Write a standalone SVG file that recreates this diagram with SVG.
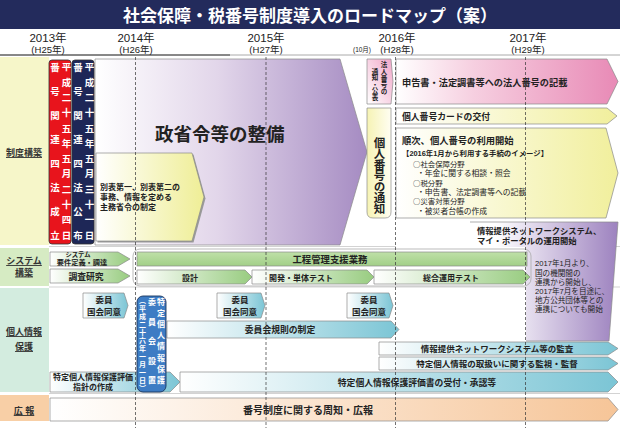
<svg xmlns="http://www.w3.org/2000/svg" width="620" height="428" viewBox="0 0 620 428">
<defs>
<style>
text{font-family:"Liberation Sans","Noto Sans CJK JP",sans-serif;fill:#222}
.j{font-family:"Noto Sans CJK JP",sans-serif}
.b{font-weight:bold}
.w{fill:#fff;font-weight:bold}
.m{text-anchor:middle}
.lab{font-size:9px;font-weight:bold;text-anchor:middle;text-decoration:underline;fill:#333}
.v{writing-mode:vertical-rl}
.ar{stroke:#8a8a8a;stroke-width:.7}
.dash{stroke:#333;stroke-width:.7;stroke-dasharray:3 2;fill:none}
.sep{stroke:#c8c8c8;stroke-width:.8}
</style>
<linearGradient id="gPurple" x1="0" y1="0" x2="1" y2="0"><stop offset="0" stop-color="#fff"/><stop offset="0.45" stop-color="#e2d6ea"/><stop offset="1" stop-color="#a58bc2"/></linearGradient>
<linearGradient id="gPurpleR" x1="0" y1="0" x2="1" y2="0"><stop offset="0" stop-color="#fff"/><stop offset="0.45" stop-color="#fff"/><stop offset="1" stop-color="#9d82bf"/></linearGradient>
<linearGradient id="gBetsu" x1="0" y1="0" x2="1" y2="0"><stop offset="0" stop-color="#fff"/><stop offset="1" stop-color="#efee96"/></linearGradient>
<linearGradient id="gPink" x1="0" y1="0" x2="1" y2="0"><stop offset="0" stop-color="#fff"/><stop offset="0.35" stop-color="#f6cfe0"/><stop offset="1" stop-color="#e88ab6"/></linearGradient>
<linearGradient id="gPinkV" x1="0" y1="1" x2="1" y2="0"><stop offset="0" stop-color="#fff"/><stop offset="1" stop-color="#f0a6c8"/></linearGradient>
<linearGradient id="gYellow" x1="0" y1="0" x2="1" y2="0"><stop offset="0" stop-color="#fff"/><stop offset="1" stop-color="#f1ef9c"/></linearGradient>
<linearGradient id="gYellowV" x1="0" y1="0" x2="1" y2="0"><stop offset="0" stop-color="#f6f3b4"/><stop offset="1" stop-color="#fffef2"/></linearGradient>
<linearGradient id="gGreen" x1="0" y1="0" x2="1" y2="0"><stop offset="0" stop-color="#fff"/><stop offset="1" stop-color="#98cc80"/></linearGradient>
<linearGradient id="gGreenBar" x1="0" y1="0" x2="0" y2="1"><stop offset="0" stop-color="#bfe0a8"/><stop offset="1" stop-color="#a2cf88"/></linearGradient>
<linearGradient id="gTeal" x1="0" y1="0" x2="1" y2="0"><stop offset="0" stop-color="#fff"/><stop offset="1" stop-color="#7bc5d5"/></linearGradient>
<linearGradient id="gOrange" x1="0" y1="0" x2="1" y2="0"><stop offset="0" stop-color="#fff"/><stop offset="1" stop-color="#f6c598"/></linearGradient>
</defs>

<!-- title -->
<g id="title">
<rect x="0" y="0" width="620" height="29" fill="#232b5c"/>
<text x="310" y="21.5" class="w m" font-size="17" style="fill:#fff">社会保障・税番号制度導入のロードマップ（案）</text>
</g>

<!-- header -->
<g id="header">
<text x="48" y="42" class="m" font-size="11.5">2013年</text>
<text x="136" y="42" class="m" font-size="11.5">2014年</text>
<text x="266" y="42" class="m" font-size="11.5">2015年</text>
<text x="397" y="42" class="m" font-size="11.5">2016年</text>
<text x="528" y="42" class="m" font-size="11.5">2017年</text>
<text x="48" y="52.5" class="m" font-size="9.5">(H25年)</text>
<text x="136" y="52.5" class="m" font-size="9.5">(H26年)</text>
<text x="266" y="52.5" class="m" font-size="9.5">(H27年)</text>
<text x="362" y="51.5" class="m" font-size="6.5">(10月)</text>
<text x="397" y="52.5" class="m" font-size="9.5">(H28年)</text>
<text x="528" y="52.5" class="m" font-size="9.5">(H29年)</text>
<line x1="0" y1="55" x2="230" y2="55" stroke="#111" stroke-width="1"/>
<line x1="230" y1="55" x2="620" y2="55" stroke="#aaa" stroke-width="1"/>
</g>

<!-- row labels -->
<g id="labels">
<rect x="0" y="57" width="49" height="188" fill="#f6f6c9"/>
<rect x="0" y="248" width="49" height="38" fill="#d6ebc3"/>
<rect x="0" y="288" width="49" height="104" fill="#d3ecdf"/>
<rect x="0" y="395" width="49" height="26" fill="#f8cfa6"/>
<text x="24" y="156" class="lab">制度構築</text>
<text x="24" y="264" class="lab">システム</text>
<text x="24" y="275.5" class="lab">構築</text>
<text x="24" y="335" class="lab">個人情報</text>
<text x="24" y="350" class="lab">保護</text>
<text x="24" y="414" class="lab">広 報</text>
<line x1="49" y1="246.5" x2="620" y2="246.5" class="sep"/>
<line x1="49" y1="287" x2="620" y2="287" class="sep"/>
<line x1="49" y1="393.5" x2="620" y2="393.5" class="sep"/>
</g>

<!-- 制度構築 -->
<g id="seishourei">
<polygon points="95,59 340,59 367,152 340,245 95,245" fill="url(#gPurple)" class="ar"/>
<text x="155" y="141" font-size="18.5" class="b">政省令等の整備</text>
</g>
<g id="betsuhyou">
<polygon points="97.5,154.5 193.5,154.5 205.5,198.5 193.5,242.5 97.5,242.5" fill="#9a9a9a"/>
<polygon points="96,153 192,153 204,197 192,241 96,241" fill="url(#gBetsu)" class="ar"/>
<text x="100" y="190" font-size="8" class="b">別表第一、別表第二の</text>
<text x="100" y="200" font-size="8" class="b">事務、情報を定める</text>
<text x="100" y="210" font-size="8" class="b">主務省令の制定</text>
</g>
<g id="seiritsu">
<rect x="49" y="60" width="22" height="184" rx="3" fill="#e8141c" stroke="#333" stroke-width=".8"/>
<text x="54.5" y="63" class="v w" font-size="9.5" letter-spacing="14.4">番号関連四法成立</text>
<text x="66" y="62" class="v w" font-size="9.5" letter-spacing="5.8">平成二十五年五月二十四日</text>
</g>
<g id="koufu">
<rect x="72" y="60" width="22" height="184" rx="3" fill="#1e2757" stroke="#333" stroke-width=".8"/>
<text x="77.5" y="63" class="v w" font-size="9.5" letter-spacing="14.4">番号関連四法公布</text>
<text x="89" y="62" class="v w" font-size="9.5" letter-spacing="5.8">平成二十五年五月三十一日</text>
</g>
<g id="houjin-tsuuchi">
<polygon points="367,59 391,59 393,81.5 391,104 367,104" fill="url(#gPinkV)" class="ar"/>
<text x="384" y="61.5" class="v b j" font-size="6.5" letter-spacing="0.2">法人番号の</text>
<text x="375" y="68" class="v b j" font-size="6.5" letter-spacing="0">通知・公表</text>
</g>
<g id="kojin-tsuuchi">
<path d="M367,108 H391 V212 Q391,218 385,218 H373 Q367,218 367,212 Z" fill="url(#gYellowV)" class="ar"/>
<text x="379.5" y="137" class="v b j" font-size="11.5" letter-spacing="-0.5">個人番号の通知</text>
</g>
<g id="houjin-kisai">
<polygon points="396,59 607,59 618,81.5 607,104 396,104" fill="url(#gPink)" class="ar"/>
<text x="402" y="86" font-size="9.2" class="b">申告書・法定調書等への法人番号の記載</text>
</g>
<g id="card">
<polygon points="396,108 607,108 617,116 607,124 396,124" fill="url(#gYellow)" class="ar"/>
<text x="402" y="119.5" font-size="8.8" class="b">個人番号カードの交付</text>
</g>
<g id="riyou">
<polygon points="396,128 606,128 618,173 606,218 396,218" fill="url(#gYellow)" class="ar"/>
<text x="402" y="143.5" font-size="9.3" class="b">順次、個人番号の利用開始</text>
<text x="402" y="156" font-size="7.4" class="b">【2016年1月から利用する手続のイメージ】</text>
<text x="413" y="167" font-size="7.4" class="j">○社会保障分野</text>
<text x="417" y="176" font-size="7.8">・年金に関する相談・照会</text>
<text x="413" y="185.5" font-size="7.4" class="j">○税分野</text>
<text x="417" y="194.5" font-size="7.8">・申告書、法定調書等への記載</text>
<text x="413" y="204" font-size="7.4" class="j">○災害対策分野</text>
<text x="417" y="213.5" font-size="7.8">・被災者台帳の作成</text>
</g>
<g id="unyou">
<polygon points="396,222 618,222 609,341 526,341 526,247 396,247" fill="url(#gPurpleR)"/>
<polyline points="470,222 618,222 609,341 526,341" fill="none" class="ar"/>
<text x="477" y="234" font-size="8.3" class="b">情報提供ネットワークシステム、</text>
<text x="477" y="243.5" font-size="8.3" class="b">マイ・ポータルの運用開始</text>
<text x="535" y="266" font-size="7.6">2017年1月より、</text>
<text x="535" y="275.5" font-size="7.6">国の機関間の</text>
<text x="535" y="285" font-size="7.6">連携から開始し、</text>
<text x="535" y="294" font-size="7.6">2017年7月を目途に、</text>
<text x="535" y="303" font-size="7.6">地方公共団体等との</text>
<text x="535" y="312" font-size="7.6">連携についても開始</text>
</g>

<!-- システム構築 -->
<g id="youken">
<polygon points="50,252 118,252 130,259 118,266 50,266" fill="url(#gGreen)" class="ar"/>
<text x="78" y="257" class="m b" font-size="6.3">システム</text>
<text x="82" y="264.5" class="m b" font-size="7.2">要件定義・調達</text>
</g>
<g id="chousa">
<polygon points="50,269 118,269 130,276 118,283 50,283" fill="url(#gGreen)" class="ar"/>
<text x="86" y="280" class="m b" font-size="8.8">調査研究</text>
</g>
<g id="system-group">
<rect x="133" y="249" width="398" height="37" rx="7" fill="none" stroke="#aaa" stroke-width=".8"/>
</g>
<g id="koutei">
<rect x="137" y="252" width="390" height="14" fill="url(#gGreenBar)" class="ar"/>
<text x="330" y="263" class="m b" font-size="9.4">工程管理支援業務</text>
</g>
<g id="sekkei">
<polygon points="137,270 245,270 252,277 245,284 137,284" fill="url(#gGreen)" class="ar"/>
<text x="190" y="280.5" class="m b" font-size="8">設計</text>
</g>
<g id="kaihatsu">
<polygon points="252,270 367,270 374,277 367,284 252,284" fill="url(#gGreen)" class="ar"/>
<text x="301" y="280.5" class="m b" font-size="8">開発・単体テスト</text>
</g>
<g id="sougou">
<polygon points="374,270 523,270 530,277 523,284 374,284" fill="url(#gGreen)" class="ar"/>
<text x="451" y="280.5" class="m b" font-size="8">総合運用テスト</text>
</g>

<!-- 個人情報保護 -->
<g id="doui1">
<polygon points="83,293 124,293 128,305.5 124,318 83,318" fill="url(#gTeal)" class="ar"/>
<text x="104" y="303" class="m b" font-size="8.5">委員</text>
<text x="104" y="314.5" class="m b" font-size="8.5">国会同意</text>
</g>
<g id="doui2">
<polygon points="217,293 261,293 265,305.5 261,318 217,318" fill="url(#gTeal)" class="ar"/>
<text x="240" y="303" class="m b" font-size="8.5">委員</text>
<text x="240" y="314.5" class="m b" font-size="8.5">国会同意</text>
</g>
<g id="doui3">
<polygon points="347,293 389,293 393,305.5 389,318 347,318" fill="url(#gTeal)" class="ar"/>
<text x="369" y="303" class="m b" font-size="8.5">委員</text>
<text x="369" y="314.5" class="m b" font-size="8.5">国会同意</text>
</g>
<g id="kisoku">
<polygon points="167,321 391,321 399,329.5 391,338 167,338" fill="url(#gTeal)" class="ar"/>
<text x="280" y="333" class="m b" font-size="8.8">委員会規則の制定</text>
</g>
<g id="kansa">
<polygon points="379,342 608,342 618,348.5 608,355 379,355" fill="url(#gTeal)" class="ar"/>
<text x="497" y="352" class="m b" font-size="8.5">情報提供ネットワークシステム等の監査</text>
</g>
<g id="kanshi">
<polygon points="379,357 608,357 618,363.5 608,370 379,370" fill="url(#gTeal)" class="ar"/>
<text x="497" y="367" class="m b" font-size="8.5">特定個人情報の取扱いに関する監視・監督</text>
</g>
<g id="shishin">
<polygon points="50,372 170,372 180,382 170,392 50,392" fill="url(#gTeal)" class="ar"/>
<text x="93" y="380" class="m b" font-size="8">特定個人情報保護評価</text>
<text x="93" y="389.5" class="m b" font-size="8">指針の作成</text>
</g>
<g id="uketsuke">
<polygon points="180,372 608,372 618,382 608,392 180,392" fill="url(#gTeal)" class="ar"/>
<text x="417" y="385.5" class="m b" font-size="8.8">特定個人情報保護評価書の受付・承認等</text>
</g>
<g id="iinkai">
<rect x="137" y="296" width="29" height="96" rx="6" fill="#3d7cc4" stroke="#1a355f" stroke-width=".9"/>
<text x="160" y="298" class="v w" font-size="8" letter-spacing="3.1">特定個人情報保護</text>
<text x="151" y="298" class="v w" font-size="8" letter-spacing="11.5">委員会設置</text>
<text x="142" y="296.5" class="v w" font-size="7" letter-spacing="1">（平成二十六年一月一日）</text>
</g>

<!-- 広報 -->
<g id="kouhou">
<polygon points="50,398 608,398 618,409.5 608,421 50,421" fill="url(#gOrange)" class="ar"/>
<text x="308" y="413.5" class="m b" font-size="10">番号制度に関する周知・広報</text>
</g>

<!-- connectors: timeline dashed guides -->
<g id="connectors">
<line x1="135.5" y1="57" x2="135.5" y2="428" class="dash"/>
<line x1="266" y1="57" x2="266" y2="428" class="dash"/>
<line x1="395.5" y1="57" x2="395.5" y2="428" class="dash"/>
<line x1="525.5" y1="57" x2="525.5" y2="428" class="dash"/>
</g>
</svg>
